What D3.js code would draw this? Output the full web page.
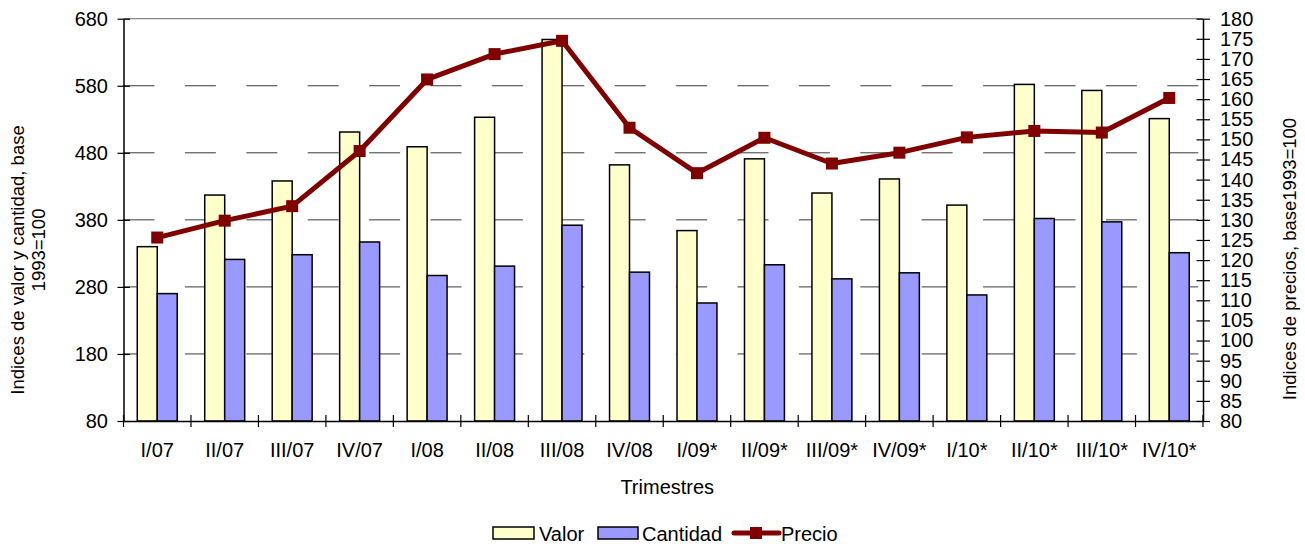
<!DOCTYPE html>
<html>
<head>
<meta charset="utf-8">
<script src="https://cdn.jsdelivr.net/npm/d3@7"></script>
<style>
  body { margin: 0; background: #fff; }
  svg { display: block; font-family: "Liberation Sans", Arial, sans-serif; }
</style>
</head>
<body>
<svg id="chart" width="1305" height="550"></svg>
<script>
const categories = ["I/07","II/07","III/07","IV/07","I/08","II/08","III/08","IV/08","I/09*","II/09*","III/09*","IV/09*","I/10*","II/10*","III/10*","IV/10*"];
const valor    = [340, 417, 438, 511, 489, 533, 649, 462, 364, 471, 420, 441, 402, 582, 573, 531];
const cantidad = [270, 321, 328, 347, 297, 311, 372, 302, 256, 313, 292, 301, 268, 382, 377, 331];
const precio   = [125.6, 129.8, 133.4, 147.1, 164.9, 171.2, 174.5, 152.9, 141.6, 150.4, 144.0, 146.7, 150.5, 152.1, 151.7, 160.3];
const leftTicks  = [80, 180, 280, 380, 480, 580, 680];
const rightTicks = d3.range(80, 181, 5);
const seriesNames = ["Valor", "Cantidad", "Precio"];

const colValor = "#FFFFCC", colCant = "#9999FF", colPrecio = "#800000";
const L = 123.5, R = 1203, T = 18.7, B = 421;
const FONT = "Liberation Sans, Arial, sans-serif";
const svg = d3.select("#chart");

const x = d3.scaleBand().domain(categories).range([L, R]).padding(0);
const bw = x.bandwidth();
const barW = bw * 0.296;
const yL = d3.scaleLinear().domain([80, 680]).range([B, T]);
const yR = d3.scaleLinear().domain([80, 180]).range([B, T]);

// gridlines
svg.append("g").selectAll("line").data(leftTicks.filter(d => d > 80 && d < 680)).join("line")
  .attr("x1", L).attr("x2", R).attr("y1", d => yL(d)).attr("y2", d => yL(d))
  .attr("stroke", "#3a3a3a").attr("stroke-width", 1).attr("stroke-dasharray", "31,30.4");
// top border
svg.append("line").attr("x1", L).attr("x2", R).attr("y1", T).attr("y2", T)
  .attr("stroke", "#888").attr("stroke-width", 1.3);

// bars
const gb = svg.append("g");
gb.selectAll("rect.v").data(valor).join("rect").attr("class", "v")
  .attr("x", (d, i) => x(categories[i]) + bw / 2 - barW)
  .attr("y", d => yL(d)).attr("width", barW).attr("height", d => B - yL(d))
  .attr("fill", colValor).attr("stroke", "#000").attr("stroke-width", 1.5);
gb.selectAll("rect.c").data(cantidad).join("rect").attr("class", "c")
  .attr("x", (d, i) => x(categories[i]) + bw / 2)
  .attr("y", d => yL(d)).attr("width", barW).attr("height", d => B - yL(d))
  .attr("fill", colCant).attr("stroke", "#000").attr("stroke-width", 1.5);

// axes
const axL = svg.append("g").attr("transform", `translate(${L},0)`)
  .call(d3.axisLeft(yL).tickValues(leftTicks).tickSize(6).tickPadding(9.5).tickSizeOuter(0));
axL.selectAll(".tick line").attr("x1", 6.5);
const axR = svg.append("g").attr("transform", `translate(${R},0)`)
  .call(d3.axisRight(yR).tickValues(rightTicks).tickSize(7).tickPadding(10).tickSizeOuter(0));
axR.selectAll(".tick line").attr("x1", -6.5);
const axB = svg.append("g").attr("transform", `translate(0,${B})`)
  .call(d3.axisBottom(x).tickSize(0).tickPadding(21.8).tickSizeOuter(0));
[axL, axR, axB].forEach(a => {
  a.attr("font-family", FONT).attr("font-size", 20);
  a.selectAll("path.domain").attr("stroke", "#000").attr("stroke-width", 1.5);
  a.selectAll(".tick line").attr("stroke", "#000").attr("stroke-width", 1.2);
  a.selectAll("text").attr("font-size", 20).attr("fill", "#000");
});
// category boundary ticks
const bounds = categories.map(c => x(c)).concat([R]);
svg.append("g").selectAll("line").data(bounds).join("line")
  .attr("x1", d => d).attr("x2", d => d).attr("y1", B - 6).attr("y2", B + 6)
  .attr("stroke", "#000").attr("stroke-width", 1.2);

// price line
const line = d3.line().x((d, i) => x(categories[i]) + bw / 2).y(d => yR(d));
svg.append("path").datum(precio).attr("d", line)
  .attr("fill", "none").attr("stroke", colPrecio).attr("stroke-width", 5).attr("stroke-linejoin", "round");
svg.append("g").selectAll("rect").data(precio).join("rect")
  .attr("x", (d, i) => x(categories[i]) + bw / 2 - 6).attr("y", d => yR(d) - 6)
  .attr("width", 12).attr("height", 12).attr("fill", colPrecio);

// titles
svg.append("text").attr("x", (L + R) / 2 + 4).attr("y", 494).attr("text-anchor", "middle")
  .attr("font-size", 20).text("Trimestres");
svg.append("text").attr("transform", "translate(24,260) rotate(-90)").attr("text-anchor", "middle")
  .attr("font-size", 18.5).text("Indices de valor y cantidad, base");
svg.append("text").attr("transform", "translate(45,250) rotate(-90)").attr("text-anchor", "middle")
  .attr("font-size", 18.5).text("1993=100");
svg.append("text").attr("transform", "translate(1296,259) rotate(-90)").attr("text-anchor", "middle")
  .attr("font-size", 18.5).text("Indices de precios, base1993=100");

// legend
const lg = svg.append("g");
lg.append("rect").attr("x", 493).attr("y", 527).attr("width", 41).attr("height", 12)
  .attr("fill", colValor).attr("stroke", "#000").attr("stroke-width", 1.5);
lg.append("text").attr("x", 539).attr("y", 541).attr("font-size", 20).text(seriesNames[0]);
lg.append("rect").attr("x", 598).attr("y", 527).attr("width", 40).attr("height", 12)
  .attr("fill", colCant).attr("stroke", "#000").attr("stroke-width", 1.5);
lg.append("text").attr("x", 642).attr("y", 541).attr("font-size", 20).text(seriesNames[1]);
lg.append("line").attr("x1", 734).attr("x2", 779).attr("y1", 533).attr("y2", 533)
  .attr("stroke", colPrecio).attr("stroke-width", 5).attr("stroke-linecap", "round");
lg.append("rect").attr("x", 750).attr("y", 527).attr("width", 12).attr("height", 12).attr("fill", colPrecio);
lg.append("text").attr("x", 781).attr("y", 541).attr("font-size", 20).text(seriesNames[2]);
</script>
</body>
</html>
